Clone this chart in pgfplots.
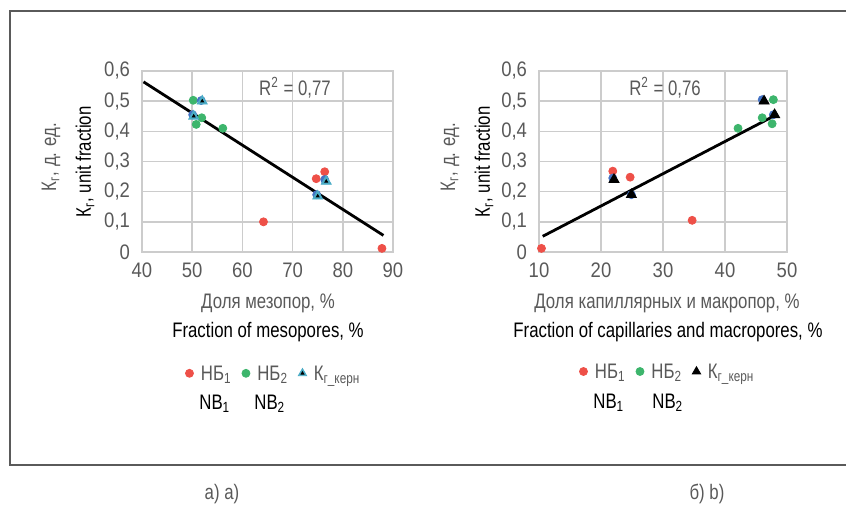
\documentclass[border=0pt]{standalone}
\usepackage{fontspec}
\setmainfont{Liberation Sans}[FakeStretch=0.8]
\newfontfamily\tickfont{Liberation Sans}[FakeStretch=0.88]
\usepackage{pgfplots}
\pgfplotsset{compat=1.18}
\definecolor{gridgray}{HTML}{CCCCCC}
\definecolor{textgray}{HTML}{595959}
\definecolor{framegray}{HTML}{5A5A5A}
\definecolor{mred}{HTML}{EE5048}
\definecolor{mgreen}{HTML}{3DB56C}
\definecolor{mblue}{HTML}{4472C4}
\definecolor{mlblue}{HTML}{4BACC6}
\newcommand{\fs}{\fontsize{10.5}{12}\selectfont}
\pgfplotsset{
  myaxis/.style={
    anchor=south west, scale only axis,
    height=90.5pt,
    ymin=0, ymax=0.6,
    ytick={0,0.1,0.2,0.3,0.4,0.5,0.6},
    yticklabels={0,{0,1},{0,2},{0,3},{0,4},{0,5},{0,6}},
    grid=major,
    axis line style={draw=gridgray, line width=0.8pt},
    major grid style={draw=gridgray, line width=0.8pt},
    tick style={draw=none},
    /pgf/number format/assume math mode=true,
    ticklabel style={text=textgray, font=\tickfont\fs},
    yticklabel style={xshift=-2.5pt},
    xticklabel style={yshift=-2pt},
    legend columns=3,
    legend cell align=left,
    legend style={draw=none, fill=none, inner sep=0pt,
      nodes={inner xsep=2pt, inner ysep=1pt, text=textgray, font=\fs, anchor=base west},
      /tikz/every even column/.append style={column sep=3pt}},
    legend image code/.code={\draw[#1] plot coordinates {(2pt,3.6pt)}; \path (0pt,3.6pt) (5.5pt,3.6pt);},
  },
  dotR/.style={only marks, mark=*, mark size=2pt, mark options={draw=mred, fill=mred}, color=mred},
  dotG/.style={only marks, mark=*, mark size=2pt, mark options={draw=mgreen, fill=mgreen}, color=mgreen},
  dotB/.style={only marks, mark=*, mark size=2pt, mark options={draw=mblue, fill=mblue}, color=mblue},
}
\begin{document}
\begin{tikzpicture}
\useasboundingbox (0,0) rectangle (423pt,252pt);
\draw[framegray, line width=0.7pt] (432pt,246.5pt) -- (5pt,246.5pt) -- (5pt,19.5pt) -- (432pt,19.5pt);

% ---------- left chart ----------
\begin{axis}[myaxis, at={(71pt,126pt)}, width=125.5pt,
  xmin=40, xmax=90, xtick={40,50,60,70,80,90},
  legend style={at={(rel axis cs:0.17,-0.71)}, anchor=base west}]
\addplot[black, line width=1.4pt, forget plot] coordinates {(40.3,0.564) (88.1,0.055)};
\addplot[dotR] coordinates {(64.2,0.10) (74.7,0.243) (76.4,0.266) (87.8,0.012)};
\addlegendentry{НБ\textsubscript{1}}
\addplot[dotG] coordinates {(50.2,0.503) (50.8,0.423) (51.9,0.445) (56.1,0.41)};
\addlegendentry{НБ\textsubscript{2}}
\addplot[dotB, forget plot] coordinates {(50.1,0.455) (51.8,0.502) (74.8,0.19) (76.4,0.24)};
\addplot[only marks, mark=triangle*, mark size=2.9pt, mark options={draw=mlblue, fill=mlblue}, color=mlblue,
  legend image code/.code={\draw[mark=triangle*, mark size=2.4pt, mark options={draw=mlblue, fill=mlblue}] plot coordinates {(2pt,3.6pt)};
    \draw[mark=triangle*, mark size=0.8pt, mark options={draw=black, fill=black}] plot coordinates {(2pt,3.6pt)};
    \path (0pt,3.6pt) (5.5pt,3.6pt);}]
  coordinates {(50.3,0.45) (52.0,0.50) (75.0,0.185) (76.7,0.234)};
\addlegendentry{К\textsubscript{г\_керн}}
\addplot[only marks, mark=triangle*, mark size=0.8pt, mark options={draw=black, fill=black}, forget plot]
  coordinates {(50.3,0.45) (52.0,0.50) (75.0,0.185) (76.7,0.234)};
\end{axis}

% ---------- right chart ----------
\begin{axis}[myaxis, at={(269.5pt,126pt)}, width=124pt,
  xmin=10, xmax=50, xtick={10,20,30,40,50},
  legend style={at={(rel axis cs:0.16,-0.70)}, anchor=base west}]
\addplot[black, line width=1.4pt, forget plot] coordinates {(10.6,0.052) (48.1,0.453)};
\addplot[dotR] coordinates {(10.4,0.012) (21.9,0.268) (24.7,0.248) (34.7,0.105)};
\addlegendentry{НБ\textsubscript{1}}
\addplot[dotG] coordinates {(42.1,0.41) (46.0,0.445) (47.6,0.425) (47.8,0.505)};
\addlegendentry{НБ\textsubscript{2}}
\addplot[dotB, forget plot] coordinates {(21.9,0.245) (24.9,0.19) (46.0,0.505) (47.8,0.455)};
\addplot[only marks, mark=triangle*, mark size=2.9pt, mark options={draw=black, fill=black}, color=black,
  legend image code/.code={\draw[mark=triangle*, mark size=2.4pt, mark options={draw=black, fill=black}] plot coordinates {(2pt,3.6pt)};
    \path (0pt,3.6pt) (5.5pt,3.6pt);}]
  coordinates {(22.1,0.24) (24.9,0.19) (46.3,0.50) (48.0,0.455)};
\addlegendentry{К\textsubscript{г\_керн}}
\end{axis}

% ---------- texts ----------
\begin{scope}[every node/.style={font=\fs, inner sep=0pt}]
\node[rotate=90, text=textgray] at (25.5pt,173.5pt) {К\textsubscript{г}, д. ед.};
\node[rotate=90] at (42.5pt,171pt) {К\textsubscript{г}, unit fraction};
\node[rotate=90, text=textgray] at (225pt,173.5pt) {К\textsubscript{г}, д. ед.};
\node[rotate=90] at (242pt,171pt) {К\textsubscript{г}, unit fraction};
\node[text=textgray] at (147.5pt,208pt) {R\textsuperscript{2} = 0,77};
\node[text=textgray] at (332.5pt,208pt) {R\textsuperscript{2} = 0,76};
\node[text=textgray] at (134pt,100.5pt) {Доля мезопор, \%};
\node at (134pt,86pt) {Fraction of mesopores, \%};
\node[text=textgray] at (333.5pt,100.5pt) {Доля капиллярных и макропор, \%};
\node at (334pt,86pt) {Fraction of capillaries and macropores, \%};
\node[anchor=base west] at (99.5pt,47.5pt) {NB\textsubscript{1}};
\node[anchor=base west] at (127pt,47.5pt) {NB\textsubscript{2}};
\node[anchor=base west] at (296.5pt,48pt) {NB\textsubscript{1}};
\node[anchor=base west] at (326pt,48pt) {NB\textsubscript{2}};
\node[text=textgray] at (111pt,5pt) {а) a)};
\node[text=textgray] at (353.5pt,5pt) {б) b)};
\end{scope}
\end{tikzpicture}
\end{document}
